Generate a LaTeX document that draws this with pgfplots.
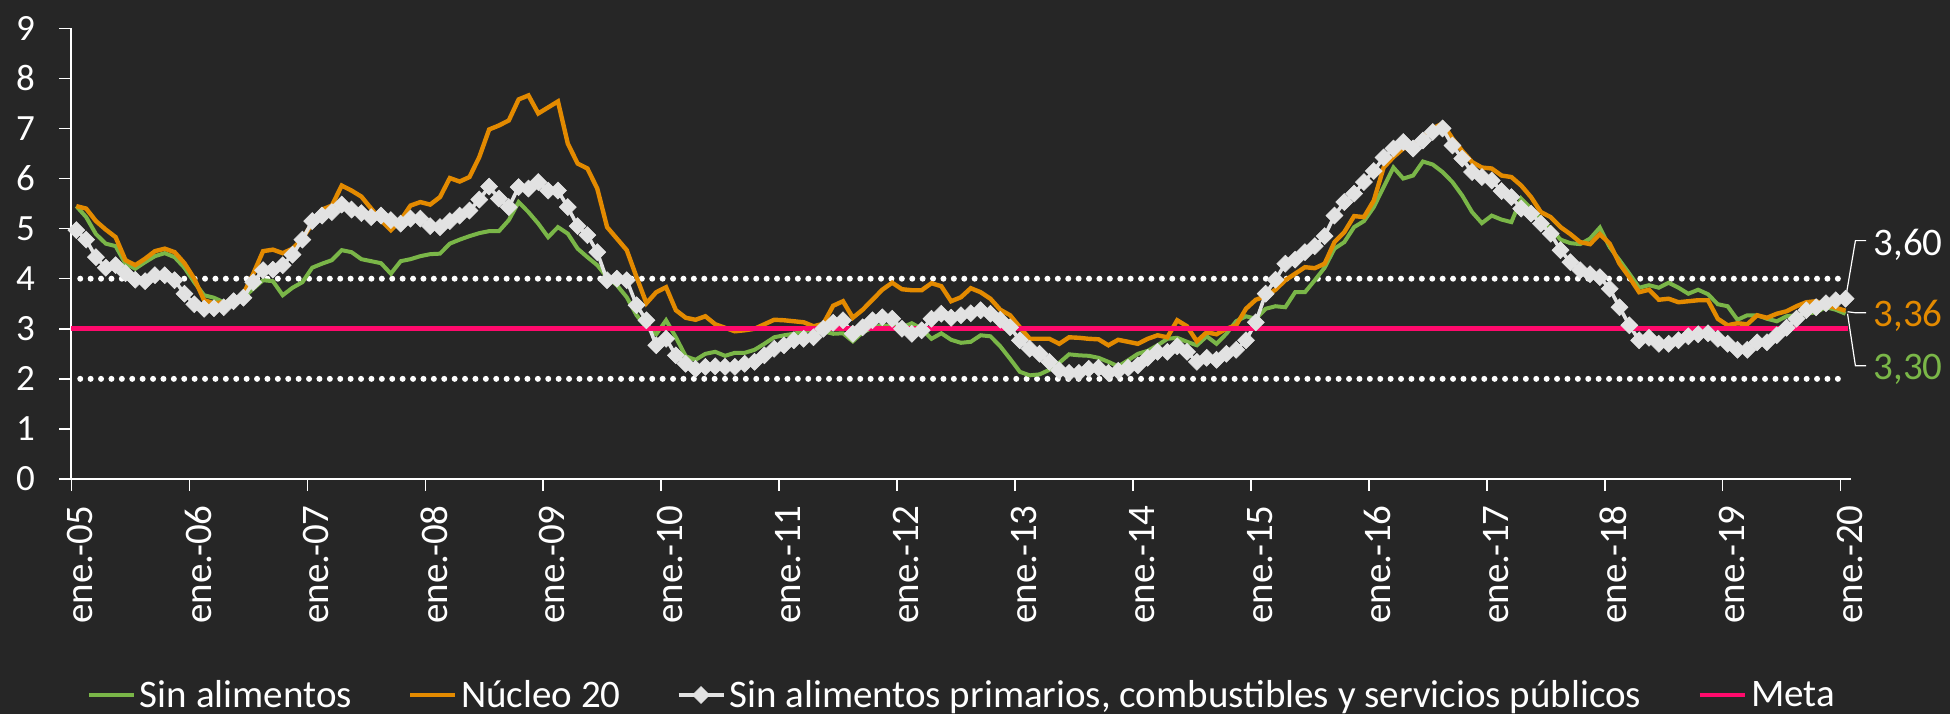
\documentclass[border=0pt]{standalone}
\usepackage{fontspec}
\setmainfont{Carlito}
\usepackage{pgfplots}
\pgfplotsset{compat=1.18}
\usepackage{pgfplotstable}
\definecolor{bg}{HTML}{262626}
\definecolor{cgreen}{HTML}{7AB648}
\definecolor{corange}{HTML}{E38A00}
\definecolor{cwhite}{HTML}{E2E2E2}
\definecolor{cpink}{HTML}{FF0A6C}

\pgfplotstableread{
i g o w
0 5.45 5.45 4.97
1 5.23 5.40 4.78
2 4.89 5.15 4.43
3 4.70 4.98 4.22
4 4.65 4.83 4.27
5 4.30 4.37 4.11
6 4.20 4.27 3.98
7 4.33 4.40 3.95
8 4.45 4.55 4.07
9 4.51 4.60 4.07
10 4.43 4.53 3.97
11 4.22 4.31 3.70
12 3.93 4.00 3.49
13 3.67 3.57 3.40
14 3.62 3.51 3.41
15 3.53 3.53 3.43
16 3.55 3.55 3.55
17 3.62 3.70 3.62
18 3.80 4.10 3.93
19 3.97 4.55 4.17
20 3.95 4.58 4.18
21 3.67 4.51 4.27
22 3.82 4.60 4.48
23 3.93 4.80 4.78
24 4.22 5.10 5.15
25 4.30 5.38 5.26
26 4.37 5.46 5.33
27 4.57 5.86 5.48
28 4.53 5.76 5.38
29 4.39 5.64 5.31
30 4.35 5.40 5.23
31 4.31 5.17 5.26
32 4.10 4.97 5.17
33 4.35 5.17 5.10
34 4.39 5.46 5.20
35 4.45 5.53 5.20
36 4.49 5.48 5.05
37 4.50 5.63 5.03
38 4.70 6.01 5.15
39 4.78 5.94 5.26
40 4.85 6.03 5.36
41 4.91 6.43 5.58
42 4.95 6.98 5.84
43 4.95 7.06 5.60
44 5.17 7.16 5.43
45 5.53 7.58 5.83
46 5.33 7.66 5.80
47 5.10 7.30 5.93
48 4.83 7.42 5.76
49 5.03 7.54 5.76
50 4.90 6.70 5.43
51 4.60 6.30 5.05
52 4.43 6.20 4.87
53 4.27 5.80 4.53
54 4.03 5.03 3.97
55 3.87 4.80 4.00
56 3.63 4.57 3.97
57 3.27 4.03 3.47
58 3.03 3.51 3.17
59 2.89 3.73 2.67
60 3.17 3.83 2.80
61 2.83 3.37 2.47
62 2.45 3.22 2.30
63 2.38 3.18 2.20
64 2.50 3.25 2.24
65 2.54 3.09 2.25
66 2.46 3.02 2.24
67 2.52 2.95 2.24
68 2.52 2.97 2.30
69 2.58 3.00 2.34
70 2.70 3.09 2.47
71 2.83 3.18 2.60
72 2.87 3.17 2.67
73 2.90 3.15 2.77
74 2.95 3.13 2.80
75 2.98 3.05 2.83
76 2.95 3.10 3.00
77 2.90 3.46 3.12
78 2.91 3.55 3.17
79 2.75 3.22 2.90
80 2.93 3.38 3.03
81 3.02 3.58 3.17
82 3.07 3.78 3.23
83 3.05 3.92 3.20
84 3.03 3.79 3.00
85 3.11 3.77 2.90
86 3.00 3.77 2.97
87 2.80 3.91 3.20
88 2.91 3.85 3.30
89 2.78 3.55 3.22
90 2.72 3.63 3.27
91 2.74 3.81 3.31
92 2.87 3.73 3.37
93 2.85 3.60 3.30
94 2.65 3.38 3.18
95 2.40 3.27 3.03
96 2.14 3.03 2.77
97 2.07 2.80 2.60
98 2.09 2.80 2.50
99 2.18 2.80 2.34
100 2.32 2.70 2.17
101 2.49 2.83 2.12
102 2.47 2.82 2.12
103 2.46 2.80 2.20
104 2.42 2.79 2.22
105 2.34 2.67 2.12
106 2.25 2.78 2.16
107 2.37 2.74 2.22
108 2.50 2.70 2.27
109 2.56 2.80 2.42
110 2.67 2.87 2.54
111 2.80 2.83 2.54
112 2.82 3.17 2.65
113 2.74 3.05 2.54
114 2.67 2.75 2.34
115 2.85 2.93 2.42
116 2.70 2.89 2.38
117 2.90 3.00 2.50
118 3.15 3.07 2.58
119 3.25 3.40 2.77
120 3.20 3.58 3.13
121 3.40 3.65 3.70
122 3.45 3.78 3.98
123 3.43 3.97 4.30
124 3.73 4.10 4.38
125 3.73 4.23 4.53
126 3.97 4.21 4.65
127 4.22 4.30 4.85
128 4.60 4.73 5.26
129 4.73 4.93 5.53
130 5.03 5.25 5.70
131 5.15 5.23 5.93
132 5.43 5.56 6.15
133 5.83 6.22 6.42
134 6.22 6.43 6.60
135 6.00 6.60 6.73
136 6.06 6.66 6.60
137 6.34 6.83 6.76
138 6.28 7.00 6.93
139 6.13 7.10 7.00
140 5.93 6.80 6.66
141 5.66 6.55 6.40
142 5.33 6.33 6.13
143 5.11 6.22 6.03
144 5.26 6.20 5.96
145 5.18 6.06 5.75
146 5.13 6.03 5.63
147 5.60 5.86 5.40
148 5.40 5.63 5.30
149 5.20 5.33 5.10
150 5.00 5.23 4.90
151 4.78 5.03 4.57
152 4.71 4.89 4.33
153 4.69 4.73 4.17
154 4.80 4.69 4.09
155 5.02 4.89 4.03
156 4.63 4.70 3.80
157 4.37 4.30 3.43
158 4.10 4.03 3.07
159 3.82 3.73 2.77
160 3.87 3.78 2.82
161 3.82 3.58 2.70
162 3.92 3.60 2.70
163 3.82 3.53 2.77
164 3.70 3.55 2.85
165 3.78 3.57 2.89
166 3.69 3.57 2.91
167 3.49 3.20 2.80
168 3.45 3.07 2.70
169 3.18 3.11 2.58
170 3.27 3.09 2.58
171 3.27 3.27 2.73
172 3.20 3.22 2.73
173 3.15 3.30 2.87
174 3.25 3.35 3.02
175 3.27 3.45 3.20
176 3.30 3.53 3.37
177 3.33 3.55 3.43
178 3.43 3.47 3.51
179 3.38 3.42 3.57
180 3.30 3.36 3.60
}\datatable

\begin{document}
\begin{tikzpicture}
\path[use as bounding box, fill=bg] (-35.7pt,-117.5pt) rectangle (939.3pt,239.5pt);
\begin{axis}[
  at={(0pt,0pt)}, anchor=south west,
  scale only axis, width=889.55pt, height=225.35pt,
  xmin=-0.5, xmax=180.5, ymin=0, ymax=9,
  axis lines=left, axis line style={-, white, line width=1pt},
  clip=false,
  xtick={-0.5,11.5,23.5,35.5,47.5,59.5,71.5,83.5,95.5,107.5,119.5,131.5,143.5,155.5,167.5,179.5},
  xticklabels={ene.-05,ene.-06,ene.-07,ene.-08,ene.-09,ene.-10,ene.-11,ene.-12,ene.-13,ene.-14,ene.-15,ene.-16,ene.-17,ene.-18,ene.-19,ene.-20},
  ytick={0,1,2,3,4,5,6,7,8,9},
  tick align=outside, major tick length=6pt,
  tick style={white, line width=0.75pt},
  tick label style={text=white},
  /pgf/number format/assume math mode=true,
  yticklabel style={font=\fontsize{18.5}{18.5}\selectfont, inner sep=0pt, anchor=east, xshift=-12pt},
  xticklabel style={font=\fontsize{19.5}{20}\selectfont, inner sep=0pt, xshift=4.5pt, yshift=-7pt, rotate=90, anchor=east},
  legend columns=4,
  legend style={at={([yshift=-108pt]axis description cs:0.5,0)}, anchor=center, draw=none, fill=none, text=white,
    font=\fontsize{19.5}{20}\selectfont, column sep=2pt, nodes={inner sep=0pt},
    /tikz/every even column/.append style={column sep=28pt}},
  legend image code/.code={\draw[mark repeat=2,mark phase=2,#1] plot coordinates {(0pt,0pt) (11.25pt,0pt) (22.5pt,0pt)};},
]
\addplot[forget plot, white, line width=3pt, line cap=round, dash pattern=on 0pt off 5.2pt] coordinates {(0.4,4) (180,4)};
\addplot[forget plot, white, line width=3pt, line cap=round, dash pattern=on 0pt off 5.2pt] coordinates {(0.4,2) (180,2)};
\addplot[cgreen, line width=2pt, no markers] table[x=i,y=g]{\datatable};
\addlegendentry{Sin alimentos}
\addplot[corange, line width=2.2pt, no markers] table[x=i,y=o]{\datatable};
\addlegendentry{Núcleo 20}
\addplot[cwhite, line width=1.8pt, mark=square*, mark size=3pt, mark options={rotate=45, fill=cwhite, draw=cwhite, line width=0.3pt}] table[x=i,y=w]{\datatable};
\addlegendentry{Sin alimentos primarios, combustibles y servicios públicos}
\addplot[cpink, line width=2.4pt, no markers] coordinates {(-0.5,3) (180.2,3)};
\addlegendentry{Meta}

\draw[white, line width=0.6pt] (axis cs:180.1,3.72) -- (axis cs:181.0,4.76) -- (axis cs:182.1,4.76);
\draw[white, line width=0.6pt] (axis cs:180.2,3.34) -- (axis cs:181.0,3.32) -- (axis cs:182.1,3.32);
\draw[white, line width=0.6pt] (axis cs:180.2,3.30) -- (axis cs:181.0,2.26) -- (axis cs:182.1,2.26);
\node[anchor=base west, inner sep=0pt, text=white, font=\fontsize{19.5}{20}\selectfont] at (axis cs:182.8,4.47) {3,60};
\node[anchor=base west, inner sep=0pt, text=corange, font=\fontsize{19.5}{20}\selectfont] at (axis cs:182.8,3.04) {3,36};
\node[anchor=base west, inner sep=0pt, text=cgreen, font=\fontsize{19.5}{20}\selectfont] at (axis cs:182.8,1.98) {3,30};
\end{axis}
\end{tikzpicture}
\end{document}
